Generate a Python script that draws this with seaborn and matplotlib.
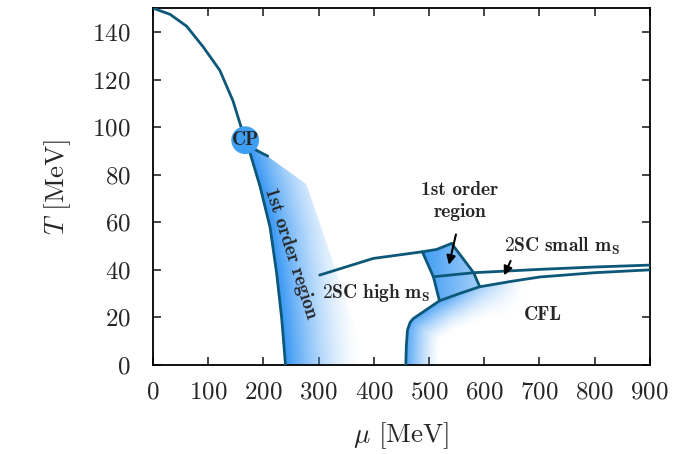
import numpy as np
import matplotlib
matplotlib.use('Agg')
import matplotlib.pyplot as plt
from matplotlib.patches import Polygon
import seaborn as sns

# crossover line from the T axis down to the critical point
crossover_mu = [0, 31, 61, 91, 121, 145, 167]
crossover_T = [150, 147.4, 142.4, 133.7, 123.9, 111, 94.5]

# first order line from the CP down to T = 0
first_mu = [167, 176, 194, 212, 224, 233, 238, 240]
first_T = [94.5, 89, 75, 58, 38.6, 20, 6, 0]

cp_mu, cp_T = 167, 94.5
cp_tail_mu = [181, 208]
cp_tail_T = [91, 87.8]

# 2SC (high m_s) upper boundary
high_mu = [302, 399, 488, 514, 541]
high_T = [37.8, 44.8, 47.6, 48.6, 51.1]

# 1st order quad sides
quad_right_mu = [541, 581, 592]
quad_right_T = [51.1, 38.8, 32.9]
quad_left_mu = [488, 508, 519]
quad_left_T = [47.6, 37.1, 27.0]

# 2SC small m_s boundary
small_mu = [508, 581, 700, 800, 900]
small_T = [37.1, 38.8, 40.2, 41.2, 42.0]

# CFL boundary
cfl_mu = [458, 459, 461, 466, 472, 490, 519, 556, 592, 650, 701, 800, 900]
cfl_T = [0, 8, 14.7, 18, 19.6, 22.4, 27.0, 30.1, 32.9, 35.2, 37.0, 38.8, 40.0]

line_col = '#0d5878'
blue = np.array([0.21, 0.59, 0.96])

sns.set_style('ticks')
plt.rcParams['font.family'] = ['cmr10', 'DejaVu Serif']
plt.rcParams['mathtext.fontset'] = 'cm'
plt.rcParams['axes.formatter.use_mathtext'] = True

fig = plt.figure(figsize=(6.74, 4.54), dpi=100)
ax = fig.add_axes([0.227, 0.196, 0.737, 0.786])

# pixel scale of the axes, used for the gradient fades
sx = 497 / 900
sy = 333.3 / 140
mu_g = np.linspace(0, 900, 1201)
T_g = np.linspace(0, 150, 401)
MU, TT = np.meshgrid(mu_g, T_g)


def polyline_dist(xs, ys):
    px, py = MU * sx, TT * sy
    d = np.full(MU.shape, np.inf)
    for i in range(len(xs) - 1):
        x0, y0 = xs[i] * sx, ys[i] * sy
        x1, y1 = xs[i + 1] * sx, ys[i + 1] * sy
        vx, vy = x1 - x0, y1 - y0
        t = ((px - x0) * vx + (py - y0) * vy) / (vx * vx + vy * vy)
        t = np.clip(t, 0, 1)
        d = np.minimum(d, np.hypot(px - x0 - t * vx, py - y0 - t * vy))
    return d


def draw_gradient(alpha, clip_xy):
    img = np.zeros(MU.shape + (4,))
    img[..., :3] = blue
    img[..., 3] = np.clip(alpha, 0, 1)
    im = ax.imshow(img, extent=[0, 900, 0, 150], origin='lower',
                   aspect='auto', interpolation='bilinear', zorder=1)
    patch = Polygon(clip_xy, closed=True, transform=ax.transData)
    im.set_clip_path(patch)


# 1st order region right of the chiral line
curve = np.interp(TT, first_T[::-1], first_mu[::-1])
a1 = np.clip(1 - (MU - curve) * sx / 78, 0, 1) ** 1.6
clip1 = list(zip(first_mu, first_T)) + [(390, 0), (278, 76)]
draw_gradient(a1, clip1)

# glow inside the CFL phase
a2 = np.clip(1 - polyline_dist(cfl_mu, cfl_T) / 34, 0, 1) ** 1.4
a2 *= np.clip((670 - MU) / 140, 0, 1) * 0.85
clip2 = list(zip(cfl_mu, cfl_T)) + [(900, 0)]
draw_gradient(a2, clip2)

# small 1st order quad
a3 = 0.95 - (MU - 488) / (592 - 488) * 0.5
clip3 = [(488, 47.6), (514, 48.6), (541, 51.1), (581, 38.8), (592, 32.9),
         (556, 30.1), (519, 27.0), (508, 37.1)]
draw_gradient(a3, clip3)

lw = 2.0
for xs, ys in [(crossover_mu, crossover_T), (first_mu, first_T),
               (cp_tail_mu, cp_tail_T), (high_mu, high_T),
               (quad_right_mu, quad_right_T), (quad_left_mu, quad_left_T),
               (small_mu, small_T), (cfl_mu, cfl_T)]:
    sns.lineplot(x=xs, y=ys, sort=False, estimator=None, color=line_col,
                 lw=lw, ax=ax, zorder=3)

ax.scatter([cp_mu], [cp_T], s=400, color='#3d9ef2', edgecolors='none', zorder=4)
ax.text(cp_mu, cp_T, 'CP', ha='center', va='center', fontsize=14,
        fontfamily='cmb10', zorder=5)

bold = dict(fontfamily='cmb10', fontsize=14, ha='center', va='center', zorder=5)
ax.text(249, 47, '1st order region', rotation=-72, **bold)
ax.text(556, 69, '1st order\nregion', linespacing=1.3, **bold)
ax.text(741, 49.7, r'$\mathbf{2SC\ small\ m_S}$', **bold)
ax.text(405, 30.1, r'$\mathbf{2SC\ high\ m_S}$', **bold)
ax.text(707, 21, 'CFL', **bold)

arrow = dict(arrowstyle='-|>', color='black', lw=1.5, mutation_scale=13)
ax.annotate('', xy=(535, 41.0), xytext=(550, 56), arrowprops=arrow, zorder=5)
ax.annotate('', xy=(634, 36.6), xytext=(650, 44.8), arrowprops=arrow, zorder=5)

ax.set_xlim(0, 900)
ax.set_ylim(0, 150)
ax.set_xticks(range(0, 901, 100))
ax.set_yticks(range(0, 141, 20))
ax.tick_params(direction='in', length=6, width=1.2, top=True, right=True,
               labelsize=18)
ax.tick_params(axis='y', pad=16)
ax.tick_params(axis='x', pad=12)
for s in ax.spines.values():
    s.set_visible(True)
    s.set_linewidth(1.3)
    s.set_color('black')
ax.set_xlabel(r'$\mu$ [MeV]', fontsize=19.5, labelpad=12)
ax.set_ylabel(r'$T$ [MeV]', fontsize=19.5, labelpad=14)

fig.savefig('out.png', dpi=100)
